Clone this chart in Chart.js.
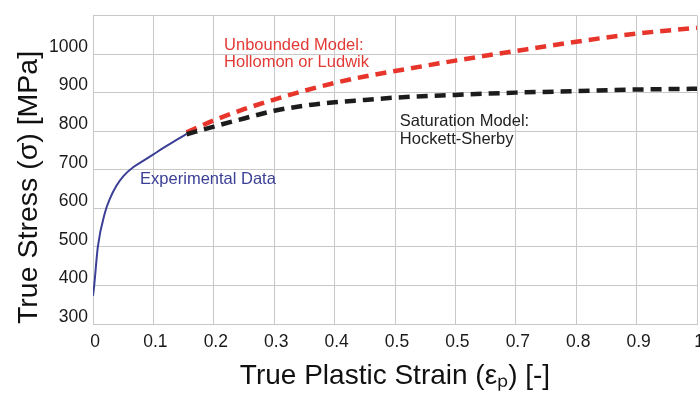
<!DOCTYPE html>
<html>
<head>
<meta charset="utf-8">
<script src="https://cdn.jsdelivr.net/npm/chart.js@4/dist/chart.umd.min.js"></script>
<style>
  html, body { margin: 0; padding: 0; background: #ffffff; }
  #wrap { width: 700px; height: 398px; position: relative; }
</style>
</head>
<body>
<div id="wrap"><canvas id="c"></canvas></div>
<script>
// ---- data ----
const expStrain = [0, 0.002, 0.008, 0.02, 0.028, 0.039, 0.05, 0.067, 0.083, 0.1, 0.122, 0.139, 0.155];
const expStress = [373, 400, 500, 590, 625, 659, 683, 707, 723, 740, 762, 778, 793];

const modelStrain = [0.155, 0.2, 0.25, 0.3, 0.35, 0.4, 0.45, 0.5, 0.6, 0.7, 0.8, 0.9, 1.0];
const hollomonStress = [797, 828, 857, 882, 905, 925, 942, 956, 983, 1008, 1032, 1053, 1068];
const hockettStress  = [792, 812, 833, 853, 866, 875, 881, 887, 894, 900, 904, 908, 910];

const xTickLabels = ['0', '0.1', '0.2', '0.3', '0.4', '0.5', '0.5', '0.7', '0.8', '0.9', '1'];
const yTickLabels = ['300', '400', '500', '600', '700', '800', '900', '1000', ''];

const annotationTexts = [
  { lines: ['Unbounded Model:', 'Hollomon or Ludwik'], x: 0.217, y: 1023, color: '#e23a36' },
  { lines: ['Saturation Model:', 'Hockett-Sherby'], x: 0.508, y: 825, color: '#222222' },
  { lines: ['Experimental Data'], x: 0.078, y: 675, color: '#3b4096' }
];

const toPts = (xs, ys) => xs.map((x, i) => ({ x: x, y: ys[i] }));

const FONT = 'Liberation Sans, Arial, Helvetica, sans-serif';
const GRID = '#c8c8c8';

const annotationPlugin = {
  id: 'textNotes',
  afterDatasetsDraw(chart) {
    const { ctx, scales } = chart;
    ctx.save();
    ctx.font = '16.5px ' + FONT;
    ctx.textAlign = 'left';
    ctx.textBaseline = 'middle';
    annotationTexts.forEach(a => {
      const px = scales.x.getPixelForValue(a.x);
      const py = scales.y.getPixelForValue(a.y);
      ctx.fillStyle = a.color;
      a.lines.forEach((t, i) => ctx.fillText(t, px, py + i * 17.7));
    });
    ctx.restore();
  }
};

new Chart(document.getElementById('c'), {
  type: 'line',
  data: {
    datasets: [
      {
        label: 'Experimental Data',
        data: toPts(expStrain, expStress),
        borderColor: '#3b4096',
        borderWidth: 2,
        pointRadius: 0,
        cubicInterpolationMode: 'monotone',
        order: 2
      },
      {
        label: 'Unbounded Model: Hollomon or Ludwik',
        data: toPts(modelStrain, hollomonStress),
        borderColor: '#e8352b',
        borderWidth: 4.5,
        borderDash: [11, 7],
        pointRadius: 0,
        cubicInterpolationMode: 'monotone',
        order: 1
      },
      {
        label: 'Saturation Model: Hockett-Sherby',
        data: toPts(modelStrain, hockettStress),
        borderColor: '#1c1c1c',
        borderWidth: 4.5,
        borderDash: [11, 7],
        pointRadius: 0,
        cubicInterpolationMode: 'monotone',
        order: 0
      }
    ]
  },
  options: {
    responsive: true,
    maintainAspectRatio: false,
    animation: false,
    layout: { padding: { top: 15, right: 3, left: 0, bottom: 0 } },
    plugins: {
      legend: { display: false },
      tooltip: { enabled: false }
    },
    scales: {
      x: {
        type: 'linear',
        min: 0,
        max: 1,
        grid: { color: GRID, lineWidth: 1, drawTicks: false },
        border: { display: true, color: GRID },
        ticks: {
          stepSize: 0.1,
          padding: 8,
          labelOffset: 2,
          maxRotation: 0,
          autoSkip: false,
          color: '#1a1a1a',
          font: { family: FONT, size: 17.5 },
          callback: (v, i) => xTickLabels[i] ?? ''
        },
        title: {
          display: true,
          text: 'True Plastic Strain (εₚ) [-]',
          color: '#111111',
          font: { family: FONT, size: 28 },
          padding: { top: 0, bottom: 5 }
        },
        afterFit(scale) {
          scale.height = 74;
          scale.paddingLeft = 0;
          scale.paddingRight = 0;
        }
      },
      y: {
        type: 'linear',
        min: 300,
        max: 1100,
        grid: { color: GRID, lineWidth: 1, drawTicks: false },
        border: { display: true, color: GRID },
        ticks: {
          stepSize: 100,
          padding: 5,
          labelOffset: -7,
          color: '#1a1a1a',
          font: { family: FONT, size: 17.5 },
          callback: (v, i) => yTickLabels[i] ?? ''
        },
        title: {
          display: true,
          text: 'True Stress (σ) [MPa]',
          align: 'start',
          color: '#111111',
          font: { family: FONT, size: 28.5 },
          padding: { top: 12, bottom: 0 }
        },
        afterFit(scale) {
          scale.width = 93;
        }
      }
    }
  },
  plugins: [annotationPlugin]
});
</script>
</body>
</html>
